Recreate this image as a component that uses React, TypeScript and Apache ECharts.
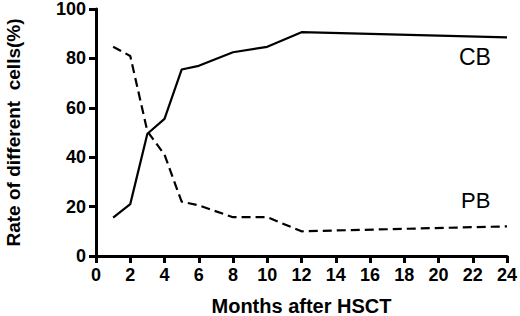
import React, { useEffect, useRef } from "react";
import * as echarts from "echarts";

const months = [1, 2, 3, 4, 5, 6, 8, 10, 12, 24];
const cbValues = [15.5, 21, 49.5, 55.5, 75.5, 77, 82.5, 84.7, 90.6, 88.5];
const pbValues = [84.7, 81, 50.5, 41, 22, 20.5, 15.7, 15.7, 10, 12];
const xTicks = [0, 2, 4, 6, 8, 10, 12, 14, 16, 18, 20, 22, 24];
const yTicks = [0, 20, 40, 60, 80, 100];

export default function App() {
  const ref = useRef<HTMLDivElement>(null);
  useEffect(() => {
    if (!ref.current) return;
    const chart = echarts.init(ref.current, undefined, { renderer: "svg" });
    const font = "Liberation Sans, Arial, sans-serif";
    chart.setOption({
      animation: false,
      backgroundColor: "#fff",
      grid: {
        left: 96,
        right: 13,
        top: 9,
        bottom: 60,
        containLabel: false,
        outerBoundsMode: "none",
      },
      xAxis: {
        type: "value",
        min: xTicks[0],
        max: xTicks[xTicks.length - 1],
        interval: 2,
        name: "Months after HSCT",
        nameLocation: "middle",
        nameGap: 40,
        nameTextStyle: { fontFamily: font, fontWeight: "bold", fontSize: 20, color: "#000" },
        axisLine: { onZero: false, lineStyle: { color: "#000", width: 3 } },
        axisTick: { show: true, length: 7, lineStyle: { color: "#000", width: 3 } },
        axisLabel: { fontFamily: font, fontWeight: "bold", fontSize: 18, color: "#000", margin: 10 },
        splitLine: { show: false },
      },
      yAxis: {
        type: "value",
        min: yTicks[0],
        max: yTicks[yTicks.length - 1],
        interval: 20,
        name: "Rate of different  cells(%)",
        nameLocation: "middle",
        nameGap: 73,
        nameTextStyle: { fontFamily: font, fontWeight: "bold", fontSize: 19, color: "#000" },
        axisLine: { show: true, lineStyle: { color: "#000", width: 3 } },
        axisTick: { show: true, length: 7, lineStyle: { color: "#000", width: 3 } },
        axisLabel: { fontFamily: font, fontWeight: "bold", fontSize: 18, color: "#000", margin: 10 },
        splitLine: { show: false },
      },
      series: [
        {
          name: "CB",
          type: "line",
          data: months.map((m, i) => [m, cbValues[i]]),
          showSymbol: false,
          symbol: "none",
          lineStyle: { color: "#000", width: 2.2 },
        },
        {
          name: "PB",
          type: "line",
          data: months.map((m, i) => [m, pbValues[i]]),
          showSymbol: false,
          symbol: "none",
          lineStyle: { color: "#000", width: 2.2, type: [9, 5] },
        },
      ],
      graphic: [
        {
          type: "text",
          left: 459,
          top: 45,
          style: { text: "CB", fontFamily: font, fontSize: 23, fill: "#000" },
        },
        {
          type: "text",
          left: 461,
          top: 189,
          style: { text: "PB", fontFamily: font, fontSize: 22, fill: "#000" },
        },
      ],
    });
    return () => chart.dispose();
  }, []);
  return (
    <div
      ref={ref}
      style={{ position: "fixed", left: 0, top: 0, width: 520, height: 316 }}
    />
  );
}
